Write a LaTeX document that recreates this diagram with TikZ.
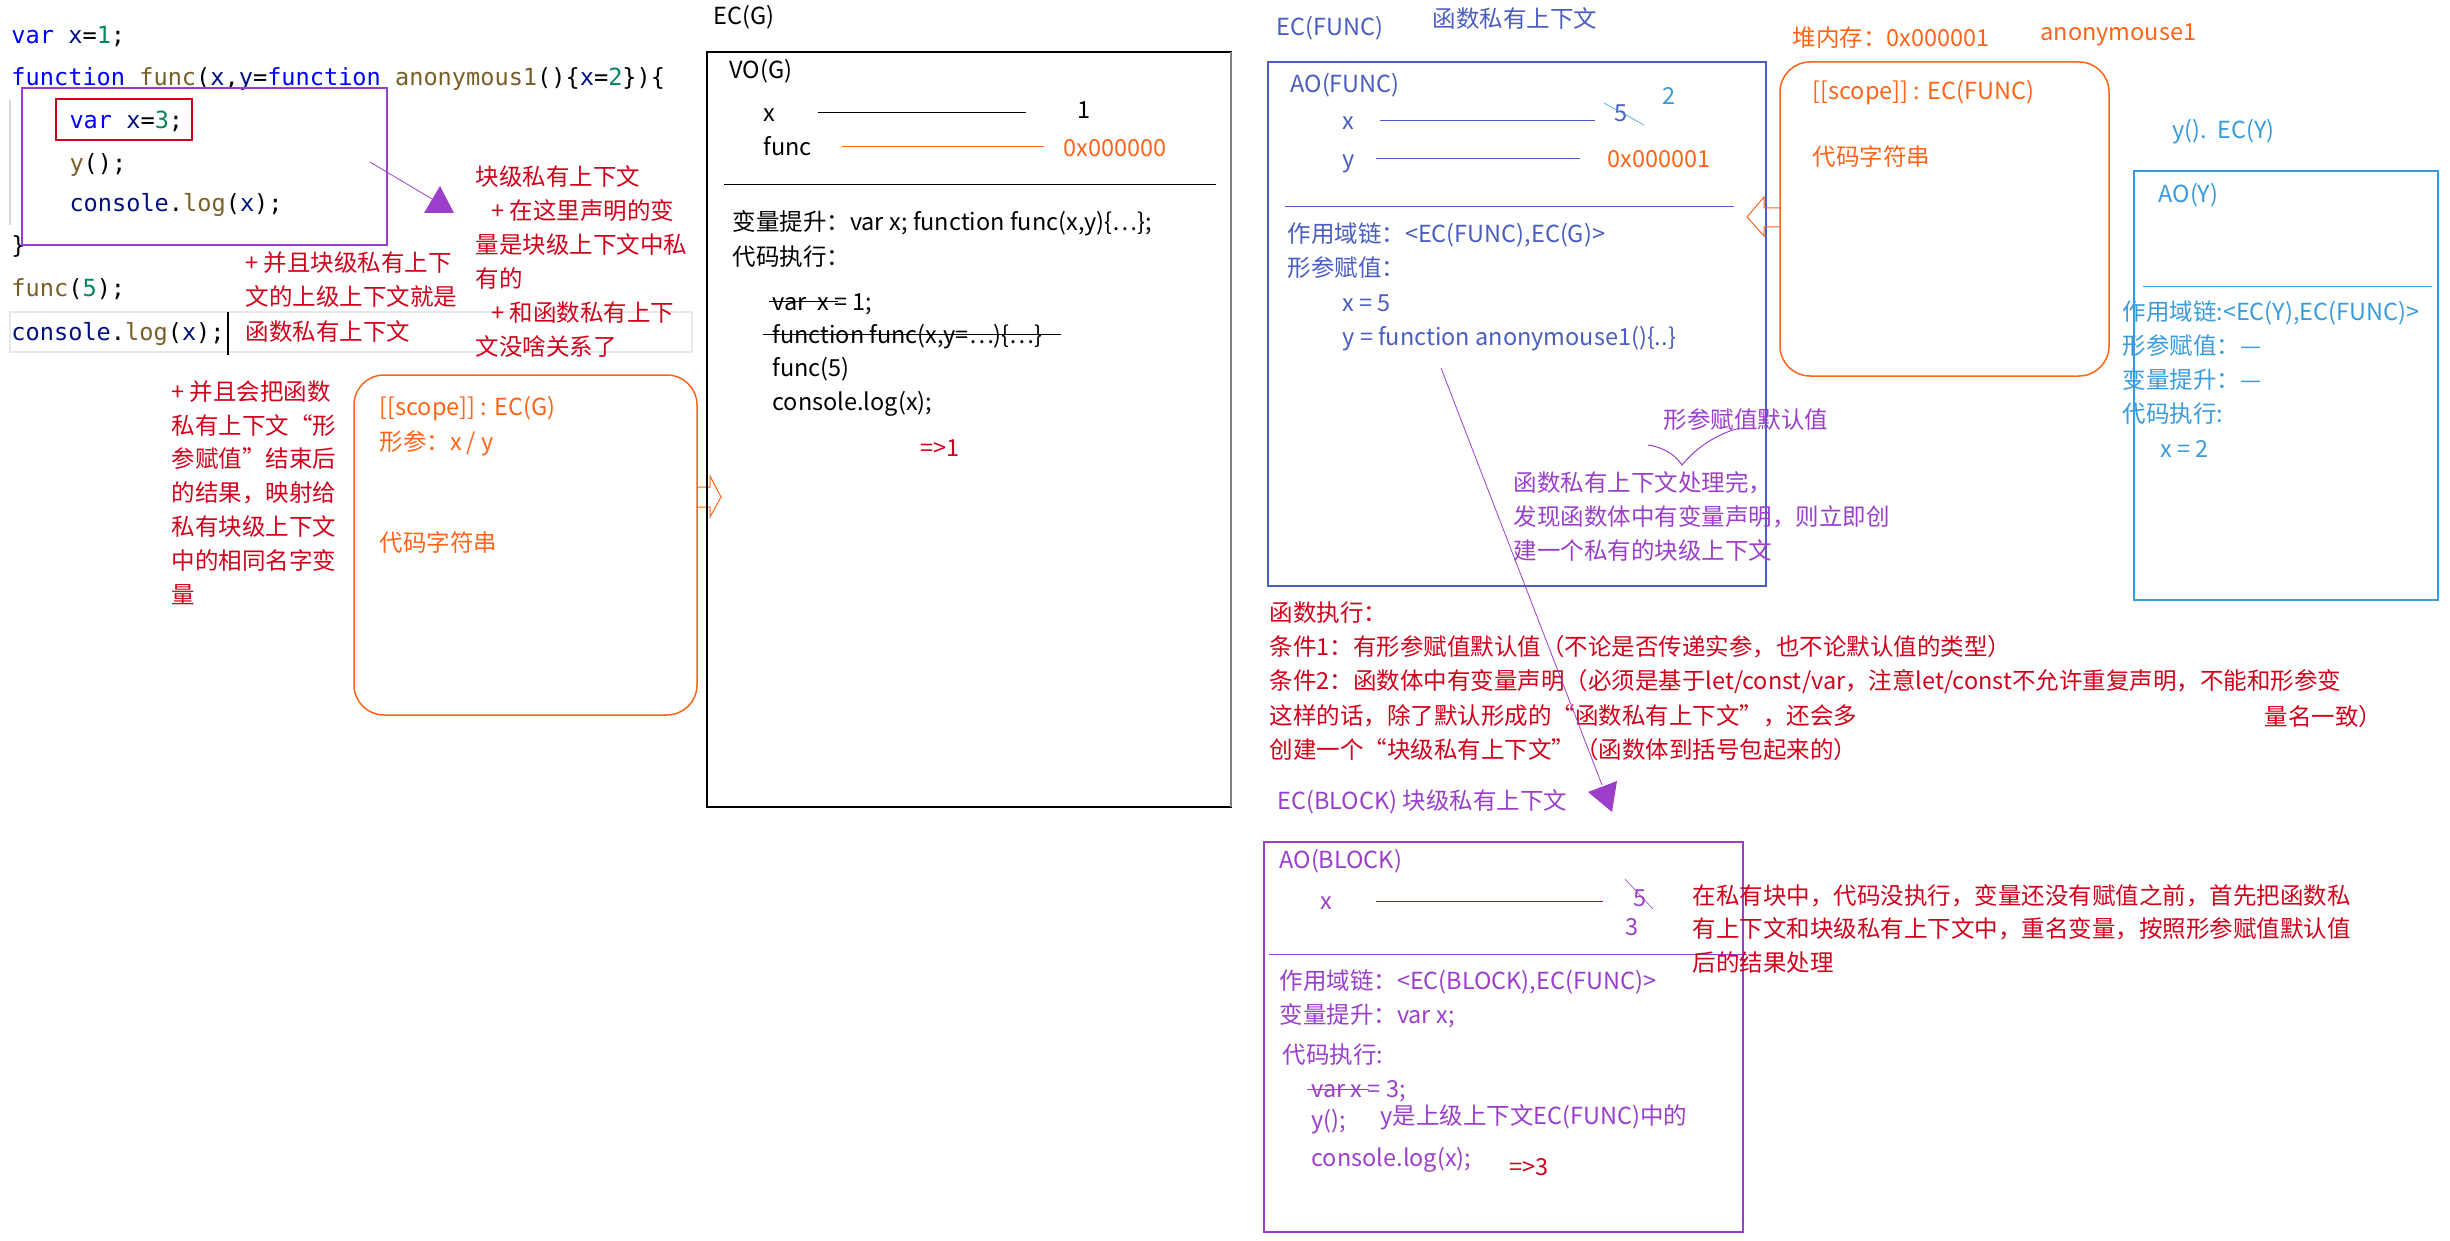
\documentclass[tikz,border=0pt]{standalone}
\usepackage{fontspec}
\setmainfont{Noto Sans CJK SC}
\newfontfamily\codefont{DejaVu Sans Mono}
\usetikzlibrary{calc}

\definecolor{kwblue}{HTML}{0000FF}
\definecolor{varnavy}{HTML}{001080}
\definecolor{numgreen}{HTML}{098658}
\definecolor{fnbrown}{HTML}{795E26}
\definecolor{notered}{HTML}{D0021B}
\definecolor{heaporange}{HTML}{FF6418}
\definecolor{funcblue}{HTML}{4A5DC0}
\definecolor{yblue}{HTML}{3A9BDC}
\definecolor{blockpurple}{HTML}{9B3FCB}

\newcommand{\jskw}[1]{\textcolor{kwblue}{#1}}
\newcommand{\jsvar}[1]{\textcolor{varnavy}{#1}}
\newcommand{\jsnum}[1]{\textcolor{numgreen}{#1}}
\newcommand{\jsfn}[1]{\textcolor{fnbrown}{#1}}

\tikzset{
  txt/.style={anchor=west, inner sep=0pt, text height=20pt, text depth=3.5pt,
    font=\fontsize{23.5}{28}\selectfont},
  code/.style={txt, font=\codefont\fontsize{23.6}{28}\selectfont},
  frame/.style={line width=1.5pt},
}

\begin{document}
\begin{tikzpicture}[x=1pt, y=-1pt, line width=1pt]
\useasboundingbox (0,0) rectangle (2450,1241);

% editor
\draw[gray!18, line width=2] (10,312) rectangle (692,352);
\draw[gray!30, line width=1.5] (10,100) -- (10,225);
\node[code] (c1) at (11,35) {\jskw{var} \jsvar{x}=\jsnum{1};};
\node[code] (c2) at (11,77) {\jskw{function} \jsfn{func}(\jsvar{x},\jsvar{y}=\jskw{function} \jsfn{anonymous1}()\{\jsvar{x}=\jsnum{2}\})\{};
\node[code] (c3) at (69,120) {\jskw{var} \jsvar{x}=\jsnum{3};};
\node[code] (c4) at (69,163) {\jsfn{y}();};
\node[code] (c5) at (69,203) {\jsvar{console}.\jsfn{log}(\jsvar{x});};
\node[code] (c6) at (11,245) {\}};
\node[code] (c7) at (11,288) {\jsfn{func}(\jsnum{5});};
\node[code] (c8) at (11,332) {\jsvar{console}.\jsfn{log}(\jsvar{x});};
\draw[line width=2] (228,312) -- (228,355);
\draw[blockpurple, line width=1.2] (22,88) rectangle (387,245);
\draw[notered, line width=1.5] (56,99) rectangle (192,140);

% block comment
\coordinate (blkcomment) at (370,162);
\coordinate (blkhead) at (432,199);
\draw[blockpurple, line width=0.8] (blkcomment) -- (blkhead);
\fill[blockpurple] (440,186) -- (424,213) -- (454,213) -- cycle;
\foreach \ln [count=\i from 0] in {{块级私有上下文},{\hspace{16pt}+ 在这里声明的变},{量是块级上下文中私},{有的},{\hspace{16pt}+ 和函数私有上下},{文没啥关系了}}
  \node[txt, notered] (blk\i) at (475,177+34*\i) {\ln};
\foreach \ln [count=\i from 0] in {{+ 并且块级私有上下},{文的上级上下文就是},{函数私有上下文}}
  \node[txt, notered] (up\i) at (245,263+34.5*\i) {\ln};
\foreach \ln [count=\i from 0] in {{+ 并且会把函数},{私有上下文“形},{参赋值”结束后},{的结果，映射给},{私有块级上下文},{中的相同名字变},{量}}
  \node[txt, notered] (map\i) at (171,392+33.8*\i) {\ln};

% function heap of func
\draw[frame, heaporange, rounded corners=30] (354,375) rectangle (697,715);
\node[txt, heaporange] (gscope) at (379,407) {[[scope]] : EC(G)};
\node[txt, heaporange] (gparam) at (379,442) {形参：x / y};
\node[txt, heaporange] (gcode) at (379,543) {代码字符串};
\draw[heaporange] (698,487) -- (710,487) -- (710,476) -- (721,497) -- (710,517) -- (710,507) -- (698,507);

% EC(G)
\node[txt] (ecg) at (713,16) {EC(G)};
\draw[frame] (707,52) rectangle (1231,807);
\draw[gray, line width=2] (1231,52) -- (1231,807);
\node[txt] (vog) at (729,70) {VO(G)};
\node[txt] (gx) at (763,113) {x};
\node[txt] (g1) at (1077,110) {1};
\draw[shorten <=42pt, shorten >=51pt] (gx.east) -- (gx.east -| g1.west);
\node[txt] (gfunc) at (763,147) {func};
\node[txt, heaporange] (gaddr) at (1063,148) {0x000000};
\draw[heaporange, shorten <=30pt, shorten >=19pt] (gfunc.east) -- (gfunc.east -| gaddr.west);
\draw (724,185) -- (1216,185);
\node[txt] (ghoist) at (732,222) {变量提升：var x; function func(x,y)\{…\};};
\node[txt] (gexec) at (732,257) {代码执行：};
\node[txt] (gs1) at (772,302) {var\ \ x = 1;};
\node[txt] (gs2) at (772,335) {function func(x,y=…)\{…\}};
\node[txt] (gs3) at (772,368) {func(5)};
\node[txt] (gs4) at (772,402) {console.log(x);};
\node[txt, notered] (gout) at (920,448) {=>1};
\draw ([xshift=-3pt]gs1.west) -- ++(69,0);
\draw ([xshift=-9pt]gs2.west) -- ++(298,0);

% EC(FUNC)
\node[txt, funcblue] (ecfunc) at (1276,27) {EC(FUNC)};
\node[txt, funcblue] (ecfuncnote) at (1432,19) {函数私有上下文};
\draw[frame, funcblue] (1268,62) rectangle (1766,586);
\node[txt, funcblue] (aofunc) at (1290,84) {AO(FUNC)};
\node[txt, funcblue] (fx) at (1342,121) {x};
\node[txt, funcblue] (f5) at (1614,113) {5};
\draw[funcblue, shorten <=25pt, shorten >=19pt] (fx.east) -- (fx.east -| f5.west);
\draw[yblue, line width=0.6] ($(f5.west)+(-10,-10)$) -- ++(40,22);
\node[txt, yblue] (f2) at (1662,96) {2};
\node[txt, funcblue] (fy) at (1342,159) {y};
\node[txt, heaporange] (faddr) at (1607,159) {0x000001};
\draw[funcblue, shorten <=21pt, shorten >=27pt] (fy.east) -- (fy.east -| faddr.west);
\draw[funcblue] (1285,207) -- (1734,207);
\node[txt, funcblue] (fchain) at (1287,234) {作用域链：<EC(FUNC),EC(G)>};
\node[txt, funcblue] (fparam) at (1287,268) {形参赋值：};
\node[txt, funcblue] (fpx) at (1342,303) {x = 5};
\node[txt, funcblue] (fpy) at (1342,337) {y = function anonymouse1()\{..\}};

% heap of anonymouse1
\node[txt, heaporange] (heap) at (1792,38) {堆内存：0x000001};
\node[txt, heaporange] (heapname) at (2040,32) {anonymouse1};
\draw[frame, heaporange, rounded corners=30] (1780,62) rectangle (2109,376);
\node[txt, heaporange] (hscope) at (1812,91) {[[scope]] : EC(FUNC)};
\node[txt, heaporange] (hcode) at (1812,157) {代码字符串};
\draw[heaporange] (1780,208) -- (1764,208) -- (1764,197) -- (1747,217) -- (1764,236) -- (1764,227) -- (1780,227);

% EC(Y)
\node[txt, yblue] (ecy) at (2172,130) {y().\ \ EC(Y)};
\draw[frame, yblue] (2134,171) rectangle (2438,600);
\node[txt, yblue] (aoy) at (2158,194) {AO(Y)};
\draw[yblue] (2143,287) -- (2432,287);
\foreach \ln [count=\i from 0] in {{作用域链:<EC(Y),EC(FUNC)>},{形参赋值：—},{变量提升：—},{代码执行:}}
  \node[txt, yblue] (yrow\i) at (2122,312+34*\i) {\ln};
\node[txt, yblue] (yx) at (2160,449) {x = 2};

% block context notes
\node[txt, blockpurple] (defnote) at (1663,420) {形参赋值默认值};
\draw[blockpurple] (1648,445) .. controls (1666,448) and (1676,456) .. (1682,465)
  .. controls (1696,448) and (1716,434) .. (1740,428);
\foreach \ln [count=\i from 0] in {{函数私有上下文处理完，},{发现函数体中有变量声明，则立即创},{建一个私有的块级上下文}}
  \node[txt, blockpurple] (found\i) at (1513,483+34*\i) {\ln};
\foreach \ln [count=\i from 0] in {{函数执行：},{条件1：有形参赋值默认值（不论是否传递实参，也不论默认值的类型）},{条件2：函数体中有变量声明（必须是基于let/const/var，注意let/const不允许重复声明，不能和形参变},{这样的话，除了默认形成的“函数私有上下文”，还会多},{创建一个“块级私有上下文”（函数体到括号包起来的）}}
  \node[txt, notered] (cond\i) at (1269,613+34.3*\i) {\ln};
\node[txt, notered] (condend) at (2264,717) {量名一致）};
\coordinate (ytail) at (1441,368);
\coordinate (blocktip) at (1602,785);
\draw[blockpurple, line width=0.8] (ytail) -- (blocktip);
\fill[blockpurple] (1588,792) -- (1617,781) -- (1612,812) -- cycle;

% EC(BLOCK)
\node[txt, blockpurple] (ecblock) at (1277,801) {EC(BLOCK) 块级私有上下文};
\draw[frame, blockpurple] (1264,842) rectangle (1743,1232);
\node[txt, blockpurple] (aoblock) at (1279,860) {AO(BLOCK)};
\node[txt, blockpurple] (bx) at (1320,901) {x};
\node[txt, blockpurple] (b5) at (1633,898) {5};
\draw[notered, shorten <=43pt, shorten >=30pt] (bx.east) -- (bx.east -| b5.west);
\draw[blockpurple, line width=0.6] ($(b5.west)+(-8,-19)$) -- ++(28,30);
\node[txt, blockpurple] (b3) at (1625,927) {3};
\draw[blockpurple] (1269,954) -- (1747,954);
\node[txt, blockpurple] (bchain) at (1279,981) {作用域链：<EC(BLOCK),EC(FUNC)>};
\node[txt, blockpurple] (bhoist) at (1279,1015) {变量提升：var x;};
\node[txt, blockpurple] (bexec) at (1282,1055) {代码执行:};
\node[txt, blockpurple] (bs1) at (1311,1089) {var x = 3;};
\draw[blockpurple] ([xshift=-4pt]bs1.west) -- ++(62,0);
\node[txt, blockpurple] (bs2) at (1311,1120) {y();};
\node[txt, blockpurple] (bnote) at (1380,1116) {y是上级上下文EC(FUNC)中的};
\node[txt, blockpurple] (bs3) at (1311,1158) {console.log(x);};
\node[txt, notered] (bout) at (1509,1167) {=>3};
\foreach \ln [count=\i from 0] in {{在私有块中，代码没执行，变量还没有赋值之前，首先把函数私},{有上下文和块级私有上下文中，重名变量，按照形参赋值默认值},{后的结果处理}}
  \node[txt, notered] (rename\i) at (1692,896+33.5*\i) {\ln};
\end{tikzpicture}
\end{document}
